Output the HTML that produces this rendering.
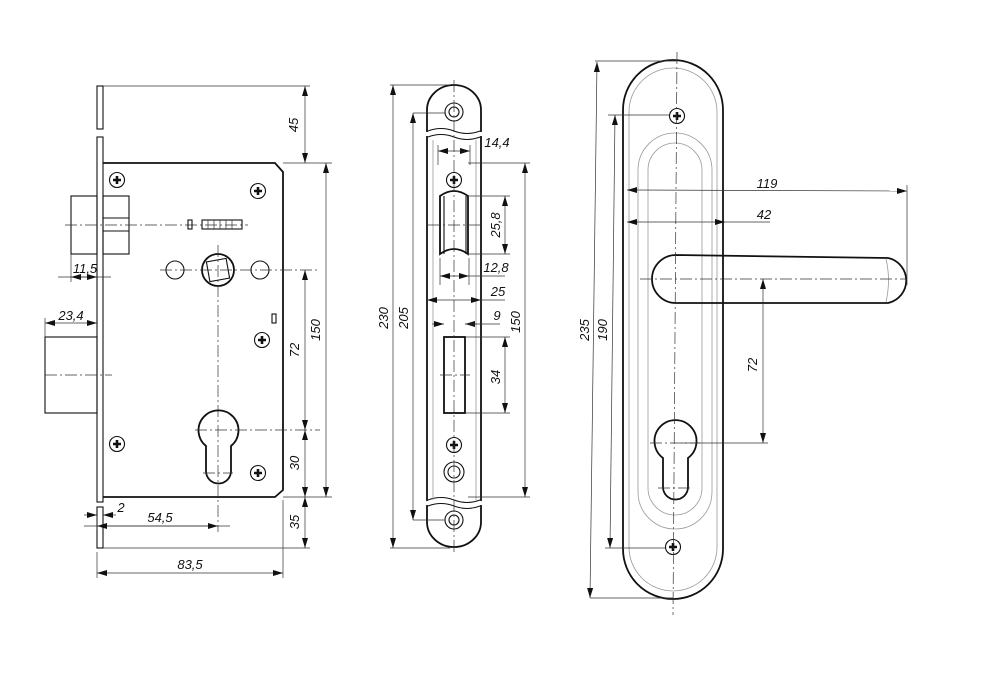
<!DOCTYPE html>
<html><head><meta charset="utf-8"><style>
html,body{margin:0;padding:0;background:#fff}
svg{display:block}
text{font-family:"Liberation Sans",sans-serif;font-style:italic;font-size:13px;fill:#111}
.t{stroke:#111;stroke-width:1.8;fill:none}
.m{stroke:#111;stroke-width:1.1;fill:none}
.d{stroke:#333;stroke-width:0.7;fill:none}
.g{stroke:#999;stroke-width:0.8;fill:none}
.c{stroke:#333;stroke-width:0.7;fill:none;stroke-dasharray:12 3 2 3}
</style></head><body>
<svg width="1000" height="679" viewBox="0 0 1000 679" xmlns="http://www.w3.org/2000/svg">
<defs>
<marker id="a" markerWidth="10" markerHeight="6" refX="10" refY="3" orient="auto-start-reverse" markerUnits="userSpaceOnUse"><path d="M0,0 L10,3 L0,6 z" fill="#111"/></marker>
<g id="scr"><circle r="7.5" class="m"/><path d="M-4,0 H4 M0,-4 V4" stroke="#111" stroke-width="2.6"/></g>
</defs>

<!-- ============ LEFT LOCK ============ -->
<rect x="97" y="86" width="6" height="43" class="m"/>
<rect x="97" y="137" width="6" height="365" class="m"/>
<rect x="97" y="507" width="6" height="41" class="m"/>
<path d="M103,163 H275 L283,172 V490 L275,497 H103" class="t"/>
<rect x="71" y="196" width="26" height="58" class="m"/>
<rect x="103" y="196" width="26" height="58" class="m"/>
<path d="M103,218 H129 M103,231 H129" class="m"/>
<line x1="65" y1="225" x2="248" y2="225" class="c"/>
<rect x="188" y="220" width="4" height="9" class="m"/>
<rect x="202" y="220" width="40" height="9" class="m"/>
<path d="M208,220 V229 M214,220 V229 M220,220 V229 M226,220 V229 M232,220 V229" class="d"/>
<rect x="45" y="337" width="52" height="76" class="m"/>
<line x1="45" y1="375" x2="112" y2="375" class="c"/>
<circle cx="218" cy="270" r="16" class="t"/>
<rect x="208" y="260" width="20" height="20" class="m" transform="rotate(-10 218 270)"/>
<circle cx="175" cy="270" r="9" class="m"/>
<circle cx="260" cy="270" r="9" class="m"/>
<line x1="160" y1="270" x2="320" y2="270" class="c"/>
<line x1="218" y1="245" x2="218" y2="532" class="c"/>
<path d="M206,446 A20,20 0 1 1 231,446 V471 A12.5,12.5 0 0 1 206,471 Z" class="t"/>
<line x1="195" y1="430" x2="320" y2="430" class="c"/>
<line x1="203" y1="473" x2="233" y2="473" class="c"/>
<rect x="272" y="314" width="4" height="9" class="m"/>
<use href="#scr" x="117" y="180"/><use href="#scr" x="258" y="191"/>
<use href="#scr" x="262" y="340"/><use href="#scr" x="117" y="444"/><use href="#scr" x="258" y="473"/>
<path d="M103,86 H310 M283,163 H332 M283,497 H332 M103,548 H310 M97,552 V578 M283,500 V578 M97,516 V530" class="d"/>
<line x1="305" y1="86" x2="305" y2="163" class="d" marker-start="url(#a)" marker-end="url(#a)"/>
<line x1="326" y1="163" x2="326" y2="497" class="d" marker-start="url(#a)" marker-end="url(#a)"/>
<line x1="305" y1="270" x2="305" y2="430" class="d" marker-start="url(#a)" marker-end="url(#a)"/>
<line x1="305" y1="430" x2="305" y2="497" class="d" marker-start="url(#a)" marker-end="url(#a)"/>
<line x1="305" y1="497" x2="305" y2="548" class="d" marker-start="url(#a)" marker-end="url(#a)"/>
<line x1="97" y1="573" x2="283" y2="573" class="d" marker-start="url(#a)" marker-end="url(#a)"/>
<line x1="84" y1="526" x2="230" y2="526" class="d"/>
<line x1="97" y1="526" x2="218" y2="526" class="d" marker-start="url(#a)" marker-end="url(#a)"/>
<line x1="84" y1="515" x2="97" y2="515" class="d" marker-end="url(#a)"/>
<line x1="116" y1="515" x2="103" y2="515" class="d" marker-end="url(#a)"/>
<line x1="58" y1="277" x2="111" y2="277" class="d"/>
<line x1="71" y1="277" x2="97" y2="277" class="d" marker-start="url(#a)" marker-end="url(#a)"/>
<line x1="71" y1="254" x2="71" y2="282" class="d"/>
<line x1="45" y1="323" x2="97" y2="323" class="d" marker-start="url(#a)" marker-end="url(#a)"/>
<line x1="45" y1="318" x2="45" y2="337" class="d"/>
<text x="298" y="125" transform="rotate(-90 298 125)" text-anchor="middle">45</text>
<text x="320" y="330" transform="rotate(-90 320 330)" text-anchor="middle">150</text>
<text x="299" y="350" transform="rotate(-90 299 350)" text-anchor="middle">72</text>
<text x="299" y="463" transform="rotate(-90 299 463)" text-anchor="middle">30</text>
<text x="299" y="522" transform="rotate(-90 299 522)" text-anchor="middle">35</text>
<text x="190" y="569" text-anchor="middle">83,5</text>
<text x="160" y="522" text-anchor="middle">54,5</text>
<text x="121" y="512" text-anchor="middle">2</text>
<text x="85" y="273" text-anchor="middle">11,5</text>
<text x="71" y="320" text-anchor="middle">23,4</text>

<!-- ============ STRIKE PLATE ============ -->
<path d="M427,132 V110 A27,25 0 0 1 481,110 V132" class="t"/>
<path d="M427,505 V522 A27,25 0 0 0 481,522 V505" class="t"/>
<path d="M427,136 V501 M481,136 V501" class="t"/>
<path d="M428,131 Q441,126 454,131 T480,131 M428,137 Q441,132 454,137 T480,137" class="m"/>
<path d="M428,500 Q441,495 454,500 T480,500 M428,506 Q441,501 454,506 T480,506" class="m"/>
<path d="M433,140 V500 M476,140 V500" class="g"/>
<circle cx="454" cy="112" r="9" class="m"/><circle cx="454" cy="112" r="5" class="m"/>
<circle cx="454" cy="520" r="9" class="m"/><circle cx="454" cy="520" r="5" class="m"/>
<circle cx="454" cy="472" r="10" class="m"/><circle cx="454" cy="472" r="6" class="m"/>
<use href="#scr" x="454" y="180"/><use href="#scr" x="454" y="445"/>
<path d="M440,196 Q454,186 468,196 V254 Q454,244 440,254 Z" class="t"/>
<path d="M444,196 V254 M466,196 V254" class="m"/>
<rect x="444" y="337" width="21" height="76" class="t"/>
<line x1="454" y1="80" x2="454" y2="555" class="c"/>
<line x1="428" y1="225" x2="480" y2="225" class="c"/>
<line x1="440" y1="375" x2="470" y2="375" class="c"/>
<path d="M390,85 H450 M390,548 H450 M413,113 H445 M413,520 H445 M468,163 H530 M468,497 H530 M468,196 H510 M468,254 H510 M465,337 H510 M465,413 H510 M438,145 V165 M470,145 V165 M440,258 V285 M469,258 V285" class="d"/>
<line x1="393" y1="85" x2="393" y2="548" class="d" marker-start="url(#a)" marker-end="url(#a)"/>
<line x1="413" y1="113" x2="413" y2="520" class="d" marker-start="url(#a)" marker-end="url(#a)"/>
<line x1="525" y1="163" x2="525" y2="497" class="d" marker-start="url(#a)" marker-end="url(#a)"/>
<line x1="505" y1="196" x2="505" y2="254" class="d" marker-start="url(#a)" marker-end="url(#a)"/>
<line x1="505" y1="337" x2="505" y2="413" class="d" marker-start="url(#a)" marker-end="url(#a)"/>
<line x1="438" y1="151" x2="470" y2="151" class="d" marker-start="url(#a)" marker-end="url(#a)"/>
<line x1="440" y1="276" x2="469" y2="276" class="d" marker-start="url(#a)" marker-end="url(#a)"/>
<line x1="469" y1="276" x2="505" y2="276" class="d"/>
<line x1="427" y1="300" x2="481" y2="300" class="d" marker-start="url(#a)" marker-end="url(#a)"/>
<line x1="481" y1="300" x2="505" y2="300" class="d"/>
<line x1="432" y1="324" x2="444" y2="324" class="d" marker-end="url(#a)"/>
<line x1="477" y1="324" x2="465" y2="324" class="d" marker-end="url(#a)"/>
<line x1="465" y1="324" x2="500" y2="324" class="d"/>
<text x="388" y="318" transform="rotate(-90 388 318)" text-anchor="middle">230</text>
<text x="408" y="318" transform="rotate(-90 408 318)" text-anchor="middle">205</text>
<text x="520" y="322" transform="rotate(-90 520 322)" text-anchor="middle">150</text>
<text x="500" y="225" transform="rotate(-90 500 225)" text-anchor="middle">25,8</text>
<text x="500" y="377" transform="rotate(-90 500 377)" text-anchor="middle">34</text>
<text x="497" y="147" text-anchor="middle">14,4</text>
<text x="496" y="272" text-anchor="middle">12,8</text>
<text x="498" y="296" text-anchor="middle">25</text>
<text x="497" y="320" text-anchor="middle">9</text>

<!-- ============ HANDLE ============ -->
<path d="M623,110 A50,50 0 0 1 723,110 V549 A50,50 0 0 1 623,549 Z" class="t"/>
<path d="M629,112 A44,44 0 0 1 717,112 V547 A44,44 0 0 1 629,547 Z" class="g"/>
<path d="M638,170 A35,35 0 0 1 712,170 V492 A37,37 0 0 1 638,492 Z" class="g"/>
<path d="M648,170 A27,27 0 0 1 702,170 V488 A27,27 0 0 1 648,488 Z" class="g"/>
<path d="M676,255 L888,258 A23,23 0 0 1 888,303 L676,303 A24,24 0 0 1 676,255 Z" class="t" fill="#fff"/>
<path d="M886,259 Q891,280 886,302" class="g"/>
<path d="M663,458 A21,21 0 1 1 688,458 V487 A12.5,12.5 0 0 1 663,487 Z" class="t"/>
<use href="#scr" x="677" y="116"/><use href="#scr" x="673" y="547"/>
<line x1="677" y1="52" x2="673" y2="615" class="c"/>
<line x1="640" y1="279" x2="905" y2="279" class="c"/>
<line x1="650" y1="443" x2="700" y2="443" class="c"/>
<line x1="658" y1="488" x2="692" y2="488" class="c"/>
<path d="M595,61 H677 M590,598 H673 M608,115 H670 M605,548 H665 M907,185 V285 M681,443 H768" class="d"/>
<line x1="597" y1="62" x2="590" y2="598" class="d" marker-start="url(#a)" marker-end="url(#a)"/>
<line x1="615" y1="115" x2="610" y2="548" class="d" marker-start="url(#a)" marker-end="url(#a)"/>
<line x1="627" y1="190" x2="907" y2="191" class="d" marker-start="url(#a)" marker-end="url(#a)"/>
<line x1="627" y1="222" x2="725" y2="222" class="d" marker-start="url(#a)" marker-end="url(#a)"/>
<line x1="725" y1="222" x2="770" y2="222" class="d"/>
<line x1="763" y1="279" x2="763" y2="443" class="d" marker-start="url(#a)" marker-end="url(#a)"/>
<text x="589" y="330" transform="rotate(-90 589 330)" text-anchor="middle">235</text>
<text x="607" y="330" transform="rotate(-90 607 330)" text-anchor="middle">190</text>
<text x="767" y="188" text-anchor="middle">119</text>
<text x="764" y="219" text-anchor="middle">42</text>
<text x="757" y="365" transform="rotate(-90 757 365)" text-anchor="middle">72</text>
</svg>
</body></html>
